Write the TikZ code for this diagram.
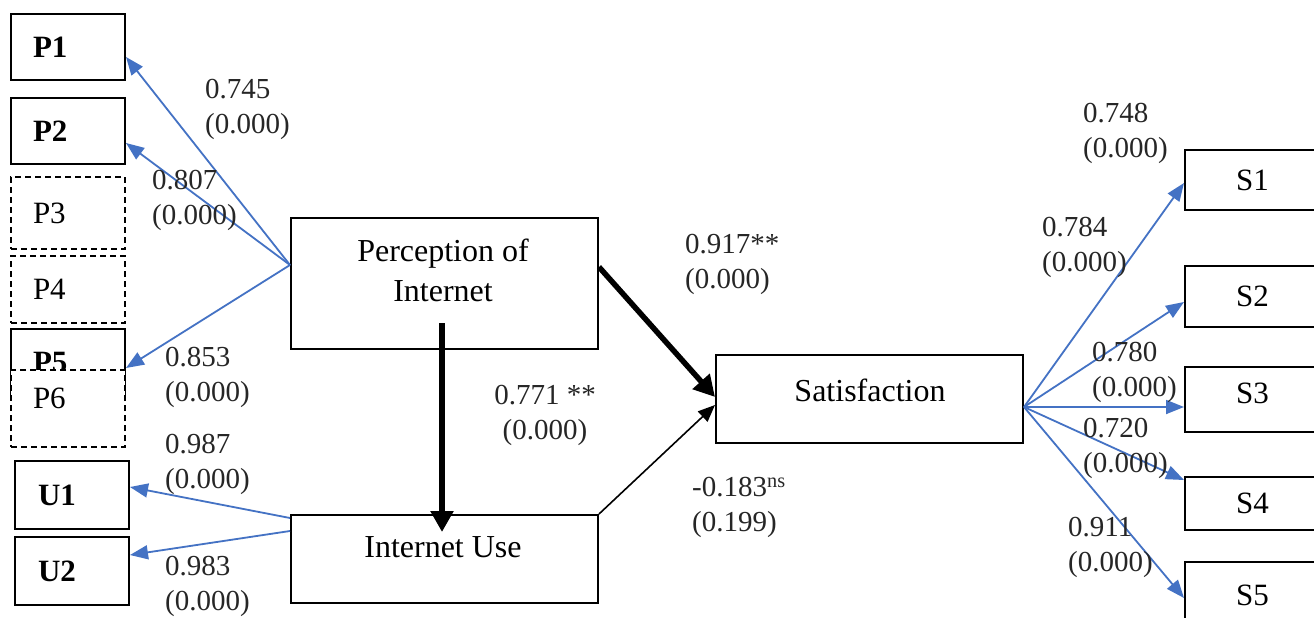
\documentclass[tikz,border=0pt]{standalone}
\usepackage{fontspec}
\setmainfont{Liberation Serif}
\usetikzlibrary{arrows.meta,calc}
\definecolor{lblue}{RGB}{68,114,196}
\tikzset{
  box/.style={draw=black, line width=2pt, inner sep=0pt},
  dbox/.style={box, line width=1.7pt, dash pattern=on 6pt off 4pt},
  ind/.style={font=\fontsize{31}{36}\selectfont\bfseries, align=left, inner xsep=0pt, inner ysep=0pt},
  indn/.style={font=\fontsize{31}{36}\selectfont, align=left, inner xsep=0pt, inner ysep=0pt},
  sbox/.style={box, font=\fontsize{31}{36}\selectfont, minimum width=135pt},
  btxt/.style={font=\fontsize{32}{40}\selectfont, align=center, inner sep=0pt},
  lbl/.style={font=\fontsize{29}{35}\selectfont, align=left, anchor=west, inner sep=0pt, text=black!85},
  load/.style={draw=lblue, line width=1.8pt, -{Triangle[length=18pt,width=14pt]}},
  thickarr/.style={draw=black, line width=5.5pt, -{Triangle[length=21pt,width=22pt]}},
  thinarr/.style={draw=black, line width=1.6pt, -{Triangle[length=17pt,width=14pt]}},
}
\begin{document}
\begin{tikzpicture}[x=1pt,y=-1pt]
\useasboundingbox (0,0) rectangle (1314,618);
\clip (0,0) rectangle (1314,618);
\fill[white] (0,0) rectangle (1314,618);

% indicator boxes (perception)
\node[box, ind, minimum width=114pt, minimum height=66pt, text width=70pt] (p1) at (68,47) {P1};
\node[box, ind, minimum width=114pt, minimum height=66pt, text width=70pt] (p2) at (68,131) {P2};
\node[dbox, indn, minimum width=114pt, minimum height=72pt, text width=70pt] (p3) at (68,213) {P3};
\node[dbox, indn, minimum width=114pt, minimum height=67pt, text width=70pt] (p4) at (68,289.5) {P4};
\node[box, ind, minimum width=114pt, minimum height=66pt, text width=70pt] (p5) at (68,362) {P5};
\node[dbox, indn, fill=white, minimum width=114pt, minimum height=77pt, text width=70pt, text depth=20pt] (p6) at (68,408.5) {P6};
% indicator boxes (use)
\node[box, ind, minimum width=114pt, minimum height=68pt, text width=68pt] (u1) at (72,495) {U1};
\node[box, ind, minimum width=114pt, minimum height=68pt, text width=68pt] (u2) at (72,571) {U2};

% construct boxes
\node[box, minimum width=307pt, minimum height=131pt] (pi) at (444.5,283.5) {};
\node[btxt] (pitxt) at (443,270) {Perception of\\Internet};
\node[box, minimum width=307pt, minimum height=88pt] (iu) at (444.5,559) {};
\node[btxt] (iutxt) at (443,547) {Internet Use};
\node[box, minimum width=307pt, minimum height=88pt] (sat) at (869.5,399) {};
\node[btxt] (sattxt) at (870,390) {Satisfaction};

% satisfaction indicators
\node[sbox, minimum height=60pt] (s1) at (1252.5,180) {S1};
\node[sbox, minimum height=61pt] (s2) at (1252.5,296.5) {S2};
\node[sbox, minimum height=65pt, text depth=12pt] (s3) at (1252.5,399.5) {S3};
\node[sbox, minimum height=53pt] (s4) at (1252.5,503.5) {S4};
\node[sbox, minimum height=66pt] (s5) at (1252.5,595) {S5};

% loadings arrows
\draw[load] ([yshift=18.5pt]pi.west) -- ([yshift=-10pt]p1.east);
\draw[load] ([yshift=18.5pt]pi.west) -- ([yshift=-12pt]p2.east);
\draw[load] ([yshift=18.5pt]pi.west) -- ([yshift=-6pt]p5.east);
\draw[load] ([yshift=41pt]iu.west) -- ([yshift=8pt]u1.east);
\draw[load] ([yshift=28pt]iu.west) -- ([yshift=16pt]u2.east);
\draw[load] ([yshift=-8pt]sat.east) -- ([yshift=-3pt]s1.west);
\draw[load] ([yshift=-8pt]sat.east) -- ([yshift=-5.5pt]s2.west);
\draw[load] ([yshift=-8pt]sat.east) -- ([yshift=-7.5pt]s3.west);
\draw[load] ([yshift=-8pt]sat.east) -- ([yshift=23.5pt]s4.west);
\draw[load] ([yshift=-8pt]sat.east) -- ([yshift=-3pt]s5.west);

% structural paths
\draw[thickarr] ([yshift=16.5pt]pi.east) -- ([yshift=2pt]sat.west);
\draw[thinarr] (iu.north east) -- ([yshift=-6pt]sat.west);
\draw[thickarr] ([xshift=-2.5pt,yshift=27pt]pi.south) -- ([xshift=-2.5pt,yshift=-18pt]iu.north);

% labels
\node[lbl] (l1) at (205,109) {0.745\\(0.000)};
\node[lbl] (l2) at (152,200) {0.807\\(0.000)};
\node[lbl] (l3) at (165,377) {0.853\\(0.000)};
\node[lbl] (l4) at (165,464) {0.987\\(0.000)};
\node[lbl] (l5) at (165,586) {0.983\\(0.000)};
\node[lbl] (l6) at (685,264) {0.917**\\(0.000)};
\node[lbl, anchor=center, align=center] (l7) at (545,415) {0.771 **\\(0.000)};
\node[lbl] (l8) at (692,507) {-0.183\textsuperscript{ns}\\(0.199)};
\node[lbl] (l9) at (1083,133) {0.748\\(0.000)};
\node[lbl] (l10) at (1042,247) {0.784\\(0.000)};
\node[lbl] (l11) at (1092,372) {0.780\\(0.000)};
\node[lbl] (l12) at (1083,448) {0.720\\(0.000)};
\node[lbl] (l13) at (1068,547) {0.911\\(0.000)};
\end{tikzpicture}
\end{document}
